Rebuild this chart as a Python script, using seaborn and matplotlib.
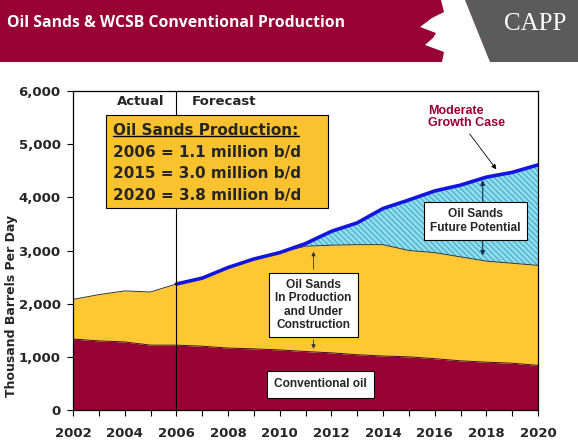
import numpy as np
import pandas as pd
import matplotlib
matplotlib.use('Agg')
import matplotlib.pyplot as plt
from matplotlib.patches import Rectangle, Polygon
import seaborn as sns

# Values (thousand barrels per day, stacked tops)
years = list(range(2002, 2021))
conventional_top = [1335, 1300, 1280, 1220, 1220, 1200, 1165, 1150, 1130, 1100,
                    1075, 1040, 1015, 1000, 965, 925, 900, 880, 840]
in_production_top = [2080, 2170, 2240, 2220, 2370, 2480, 2680, 2840, 2960, 3080,
                     3100, 3110, 3110, 3000, 2960, 2880, 2800, 2760, 2720]
forecast_years = list(range(2006, 2021))
moderate_growth = [2370, 2480, 2680, 2840, 2960, 3130, 3360, 3520, 3790, 3950,
                   4120, 4230, 4380, 4470, 4610]

title = 'Oil Sands & WCSB Conventional Production'
box_title = 'Oil Sands Production:'
box_lines = ['2006 = 1.1 million b/d', '2015 = 3.0 million b/d', '2020 = 3.8 million b/d']
y_ticks = [0, 1000, 2000, 3000, 4000, 5000, 6000]
y_tick_labels = ['0', '1,000', '2,000', '3,000', '4,000', '5,000', '6,000']
x_ticks = list(range(2002, 2021, 2))

MAROON = '#990033'
YELLOW = '#ffc833'
CYAN = '#8fdcef'
HATCH = '#2f9fb8'
BLUE = '#1414e0'

sns.set_style('white')
plt.rcParams['font.family'] = ['DejaVu Sans']
plt.rcParams['hatch.linewidth'] = 0.6

fig = plt.figure(figsize=(5.78, 4.46), dpi=100)

# header band drawn in pixel coordinates
hdr = fig.add_axes([0, 0, 1, 1])
hdr.set_xlim(0, 578)
hdr.set_ylim(446, 0)
hdr.axis('off')
hdr.add_patch(Rectangle((0, 0), 578, 62, color=MAROON, lw=0))
hdr.add_patch(Polygon([(465, 0), (578, 0), (578, 62), (490, 62)], closed=True,
                      color='#5b5b5b', lw=0))
leaf = [(441, 0), (465, 0), (490, 62), (442, 62), (444, 52), (425, 45), (433, 38),
        (436, 33), (420, 27), (432, 18), (444, 12)]
hdr.add_patch(Polygon(leaf, closed=True, color='white', lw=0))
hdr.text(7, 23, title, color='white', fontsize=11.3, fontweight='bold',
         family='Open Sans', va='center', ha='left')
hdr.text(535, 24, 'CAPP', color='white', fontsize=18, family='Liberation Serif',
         va='center', ha='center')

ax = fig.add_axes([73 / 578, 36 / 446, 465 / 578, 319 / 446])

df = pd.DataFrame({'year': years, 'conv': conventional_top, 'prod': in_production_top})
fc = pd.DataFrame({'year': forecast_years, 'total': moderate_growth})

ax.fill_between(df['year'], 0, df['conv'], color=MAROON, lw=0, zorder=1)
ax.fill_between(df['year'], df['conv'], df['prod'], color=YELLOW, lw=0, zorder=1)
prod_fc = df.loc[df['year'] >= 2006, 'prod'].values
ax.fill_between(fc['year'], prod_fc, fc['total'], facecolor=CYAN, edgecolor=HATCH,
                hatch='\\\\\\\\\\\\', lw=0, zorder=1)
ax.plot(df['year'], df['conv'], color='#3a1020', lw=0.7, zorder=2)
ax.plot(df['year'], df['prod'], color='#333333', lw=0.7, zorder=2)
sns.lineplot(data=fc, x='year', y='total', color=BLUE, linewidth=2.6, ax=ax, zorder=3)

ax.set_xlim(2002, 2020)
ax.set_ylim(0, 6000)
ax.set_xticks(x_ticks)
ax.set_xticks(years, minor=True)
ax.set_yticks(y_ticks)
ax.set_yticklabels(y_tick_labels)
ax.set_xlabel('')
ax.set_ylabel('')
ax.tick_params(axis='both', which='both', direction='out', length=4, width=0.8,
               color='black', left=True, bottom=True)
ax.tick_params(axis='x', labelsize=9.5, pad=8)
ax.tick_params(axis='y', labelsize=9.5, pad=5)
for lab in ax.get_xticklabels() + ax.get_yticklabels():
    lab.set_fontweight('bold')
for sp in ax.spines.values():
    sp.set_color('black')
    sp.set_linewidth(0.9)

fig.text(12 / 578, 1 - 306 / 446, 'Thousand Barrels Per Day', rotation=90,
         fontsize=9, fontweight='bold', ha='center', va='center')

# actual / forecast split
ax.axvline(2006, color='black', lw=0.8, zorder=4)
ax.text(2004.63, 5800, 'Actual', fontsize=9.5, fontweight='bold', ha='center', va='center')
ax.text(2007.85, 5800, 'Forecast', fontsize=9.5, fontweight='bold', ha='center', va='center')

# oil sands production box
ax.add_patch(Rectangle((2003.27, 3795), 8.6, 1755, facecolor='#fbc22f',
                       edgecolor='black', lw=0.8, zorder=5))
t_head = ax.text(2003.56, 5266, box_title, fontsize=11, fontweight='bold',
                 ha='left', va='center', zorder=6)
for yy, line in zip([4840, 4452, 4043], box_lines):
    ax.text(2003.56, yy, line, fontsize=11, fontweight='bold', ha='left', va='center', zorder=6)

# underline for the box heading
fig.canvas.draw()
bb = t_head.get_window_extent().transformed(ax.transData.inverted())
ax.plot([bb.x0, bb.x1], [bb.y0 + 25, bb.y0 + 25], color='black', lw=1.0, zorder=6)

arial = 'Liberation Sans'
box_kw = dict(boxstyle='square,pad=0.5', facecolor='white', edgecolor='black', lw=0.8)

ax.text(2015.74, 5510, 'Moderate\nGrowth Case', fontsize=9, fontweight='bold',
        family=arial, color=MAROON, ha='left', va='center', linespacing=1.0)
ax.annotate('', xy=(2018.45, 4485), xytext=(2017.29, 5235),
            arrowprops=dict(arrowstyle='-|>', color='black', lw=0.6, mutation_scale=7))

ax.annotate('', xy=(2017.86, 4375), xytext=(2017.86, 2853),
            arrowprops=dict(arrowstyle='<|-|>', color='#1a3050', lw=0.8, mutation_scale=7),
            zorder=4)
ax.text(2017.58, 3550, 'Oil Sands\nFuture Potential', fontsize=8.6, fontweight='bold',
        family=arial, ha='center', va='center', bbox=box_kw, zorder=6)

ax.annotate('', xy=(2011.31, 3030), xytext=(2011.31, 2595),
            arrowprops=dict(arrowstyle='-|>', color='#333333', lw=0.6, mutation_scale=6))
ax.annotate('', xy=(2011.31, 1096), xytext=(2011.31, 1373),
            arrowprops=dict(arrowstyle='-|>', color='#333333', lw=0.6, mutation_scale=6))
ax.text(2011.31, 1975, 'Oil Sands\nIn Production\nand Under\nConstruction', fontsize=8.6,
        fontweight='bold', family=arial, ha='center', va='center', bbox=box_kw,
        linespacing=1.15, zorder=6)

ax.text(2011.58, 480, 'Conventional oil', fontsize=8.6, fontweight='bold', family=arial,
        ha='center', va='center', zorder=6,
        bbox=dict(boxstyle='square,pad=0.6', facecolor='white', edgecolor='black', lw=0.8))

fig.savefig('out.png', dpi=100)
